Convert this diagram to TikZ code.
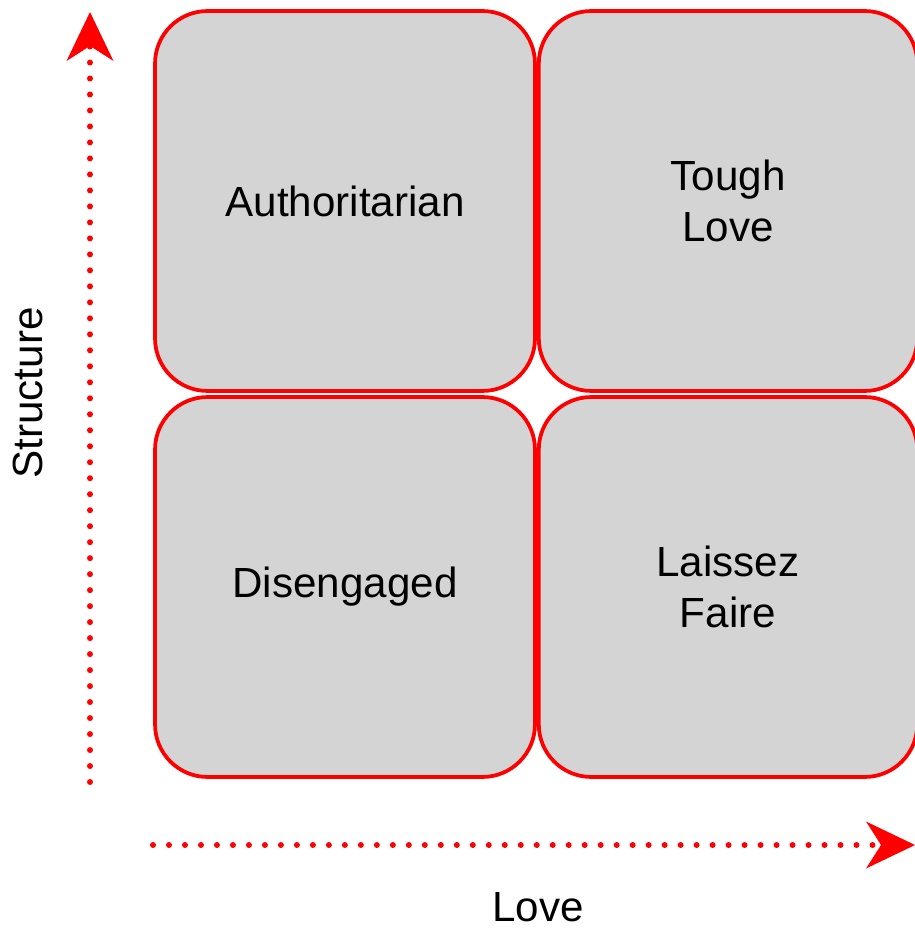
\documentclass[tikz,border=0pt]{standalone}
\usepackage{fontspec}
\setmainfont{Liberation Sans}
\usetikzlibrary{arrows.meta}
\definecolor{cellgray}{RGB}{212,212,212}

\begin{document}
\begin{tikzpicture}[x=0.02cm,y=-0.02cm]
\tikzstyle{cell}=[rectangle, draw=red, fill=cellgray, line width=0.075cm,
    rounded corners=1.05cm, minimum height=7.6cm, align=center,
    font=\fontsize{24}{29}\selectfont]
\tikzstyle{axis}=[draw=red, line width=3.4pt, line cap=round,
    dash pattern=on 0pt off 9.1pt,
    -{Stealth[length=0.98cm, width=0.94cm, inset=0.3cm, line width=0pt, fill=red]}]
\useasboundingbox (0,0) rectangle (914,928);

    \node[cell, minimum width=7.6cm] (auth) at (345,201) {Authoritarian};
    \node[cell, minimum width=7.57cm] (tough) at (728,201) {Tough\\Love};
    \node[cell, minimum width=7.6cm] (dis) at (345,587) {Disengaged};
    \node[cell, minimum width=7.57cm] (lais) at (728,587) {Laissez\\Faire};

\coordinate (s0) at (90,782);
\coordinate (s1) at (90,12);
\coordinate (l0) at (153,845);
\coordinate (l1) at (915,845);
\draw[axis] (s0) -- (s1);
\draw[axis] (l0) -- (l1);

\node[rotate=90, font=\fontsize{24}{29}\selectfont] (struct) at (28,393) {Structure};
\node[font=\fontsize{24}{29}\selectfont] (love) at (538,907) {Love};
\end{tikzpicture}
\end{document}
